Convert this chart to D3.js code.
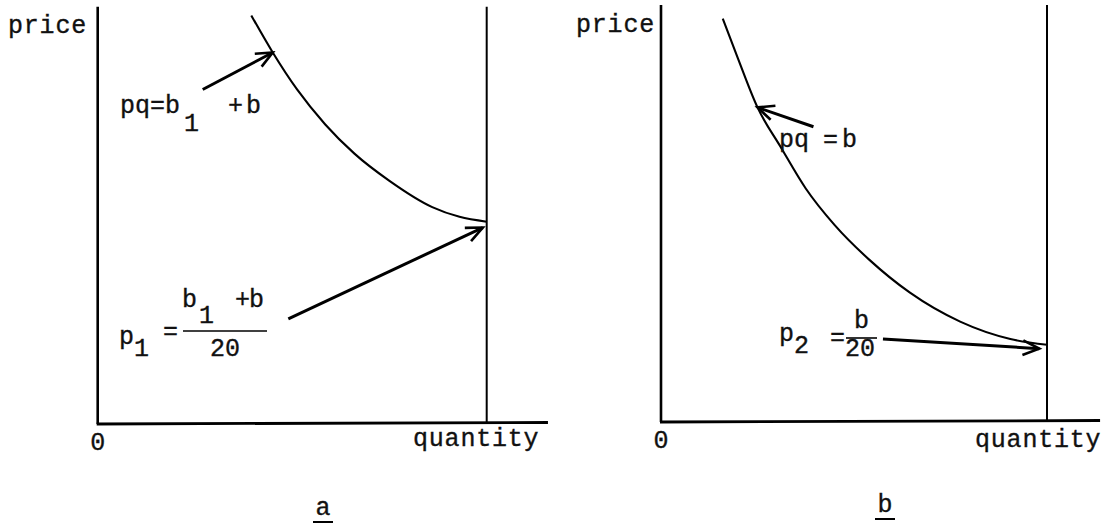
<!DOCTYPE html>
<html>
<head>
<meta charset="utf-8">
<script src="https://cdn.jsdelivr.net/npm/d3@7"></script>
<style>
  html, body { margin: 0; padding: 0; background: #fff; }
  svg text { font-family: "Liberation Mono", "DejaVu Sans Mono", monospace; fill: #111; stroke: #111; stroke-width: 0.35; }
</style>
</head>
<body>
<div id="chart"></div>
<script>
// curve: pq = b1 + b
const quantityA = [7.9, 9.0, 10.25, 11.7, 13.2, 15.0, 17.2, 18.6, 20];
const priceA = [21.0, 19.1, 17.2, 15.4, 13.9, 12.5, 11.15, 10.65, 10.4];

// curve: pq = b
const quantityB = [3.2, 4.0, 5.0, 6.2, 7.5, 9.0, 10.8, 12.9, 15.5, 18.1, 20];
const priceB = [20.9, 18.8, 16.3, 14.25, 12.1, 10.2, 8.4, 6.7, 5.2, 4.3, 4.0];

// arrows: [tail q, tail p, tip q, tip p]
const arrowsA = [[5.4, 17.2, 9.0, 19.1], [9.8, 5.4, 19.8, 10.1]];
const arrowsB = [[7.9, 15.3, 5.0, 16.3], [11.5, 4.3, 19.6, 3.8]];

const capacity = 20;
const axisLabels = ["price", "quantity", "0"];
const panelLabels = ["a", "b"];

const width = 1107, height = 529;
const fs = 25;
const svg = d3.select("#chart").append("svg")
    .attr("width", width)
    .attr("height", height);

function makePanel(cfg) {
    const x = d3.scaleLinear().domain([0, capacity]).range([cfg.x0, cfg.x1]);
    const y = d3.scaleLinear().domain([0, capacity]).range([cfg.y0, cfg.y0 - (cfg.x1 - cfg.x0)]);
    const g = svg.append("g");

    // axes
    g.append("line")
        .attr("x1", x(0)).attr("y1", y(0))
        .attr("x2", x(0)).attr("y2", y(cfg.pMax))
        .attr("stroke", "#000").attr("stroke-width", 2.6);
    g.append("line")
        .attr("x1", x(0) - 1).attr("y1", y(0))
        .attr("x2", x(cfg.qMax)).attr("y2", y(0) - 1.5)
        .attr("stroke", "#000").attr("stroke-width", 2.8);
    // capacity line
    g.append("line")
        .attr("x1", x(capacity)).attr("y1", y(0))
        .attr("x2", x(capacity)).attr("y2", y(cfg.pMax))
        .attr("stroke", "#000").attr("stroke-width", 2);

    const line = d3.line()
        .x(d => x(d[0]))
        .y(d => y(d[1]))
        .curve(d3.curveMonotoneX);

    g.append("path")
        .datum(d3.zip(cfg.q, cfg.p))
        .attr("fill", "none")
        .attr("stroke", "#000")
        .attr("stroke-width", 2.1)
        .attr("d", line);

    cfg.arrows.forEach(a => {
        const tx = x(a[0]), ty = y(a[1]), hx = x(a[2]), hy = y(a[3]);
        const ang = Math.atan2(hy - ty, hx - tx);
        const len = 18, spread = 0.42;
        g.append("line")
            .attr("x1", tx).attr("y1", ty).attr("x2", hx).attr("y2", hy)
            .attr("stroke", "#000").attr("stroke-width", 3);
        g.append("path")
            .attr("d", `M${hx - len * Math.cos(ang - spread)},${hy - len * Math.sin(ang - spread)}` +
                `L${hx},${hy}L${hx - len * Math.cos(ang + spread)},${hy - len * Math.sin(ang + spread)}`)
            .attr("fill", "none")
            .attr("stroke", "#000")
            .attr("stroke-width", 2.6)
            .attr("stroke-linejoin", "miter");
    });

    g.append("text").attr("x", cfg.priceX).attr("y", cfg.priceY)
        .attr("font-size", fs).attr("letter-spacing", 0.8)
        .text(axisLabels[0]);
    g.append("text").attr("x", cfg.qtyX).attr("y", cfg.qtyY)
        .attr("font-size", fs).attr("letter-spacing", 0.8)
        .text(axisLabels[1]);
    g.append("text").attr("x", x(0)).attr("y", cfg.zeroY)
        .attr("text-anchor", "middle").attr("font-size", fs)
        .text(axisLabels[2]);

    // panel caption, underlined
    g.append("text").attr("x", cfg.capX).attr("y", cfg.capY)
        .attr("text-anchor", "middle").attr("font-size", fs)
        .text(cfg.caption);
    g.append("line")
        .attr("x1", cfg.capX - 10).attr("x2", cfg.capX + 10)
        .attr("y1", cfg.capY + 7).attr("y2", cfg.capY + 7)
        .attr("stroke", "#000").attr("stroke-width", 2);

    return g;
}

function put(g, str, x, y) {
    g.append("text").attr("x", x).attr("y", y)
        .attr("font-size", fs)
        .text(str);
}

const gA = makePanel({
    x0: 97.7, x1: 486.7, y0: 424, pMax: 21.45, qMax: 23.15,
    q: quantityA, p: priceA, arrows: arrowsA,
    priceX: 8, priceY: 33, qtyX: 413, qtyY: 446, zeroY: 450,
    capX: 323, capY: 515, caption: panelLabels[0]
});

const gB = makePanel({
    x0: 661, x1: 1047, y0: 422, pMax: 21.6, qMax: 22.75,
    q: quantityB, p: priceB, arrows: arrowsB,
    priceX: 576, priceY: 32, qtyX: 975, qtyY: 447, zeroY: 448,
    capX: 885, capY: 512, caption: panelLabels[1]
});

// panel a formulas
put(gA, "pq", 120, 113);
put(gA, "=", 150, 113);
put(gA, "b", 165, 113);
put(gA, "1", 184, 131);
put(gA, "+", 228, 113);
put(gA, "b", 246, 113);

put(gA, "p", 119, 344);
put(gA, "1", 134, 356);
put(gA, "=", 163, 339);
put(gA, "b", 182, 307);
put(gA, "1", 199, 323);
put(gA, "+", 235, 307);
put(gA, "b", 249, 307);
gA.append("line").attr("x1", 183).attr("x2", 267).attr("y1", 331).attr("y2", 331)
    .attr("stroke", "#000").attr("stroke-width", 1.6);
put(gA, "20", 210, 356);

// panel b formulas
put(gB, "pq", 779, 147);
put(gB, "=", 823, 147);
put(gB, "b", 842, 147);

put(gB, "p", 779, 341);
put(gB, "2", 794, 353);
put(gB, "=", 830, 345);
put(gB, "b", 854, 328);
gB.append("line").attr("x1", 846).attr("x2", 877).attr("y1", 338).attr("y2", 338)
    .attr("stroke", "#000").attr("stroke-width", 1.6);
put(gB, "20", 845, 356);
</script>
</body>
</html>
